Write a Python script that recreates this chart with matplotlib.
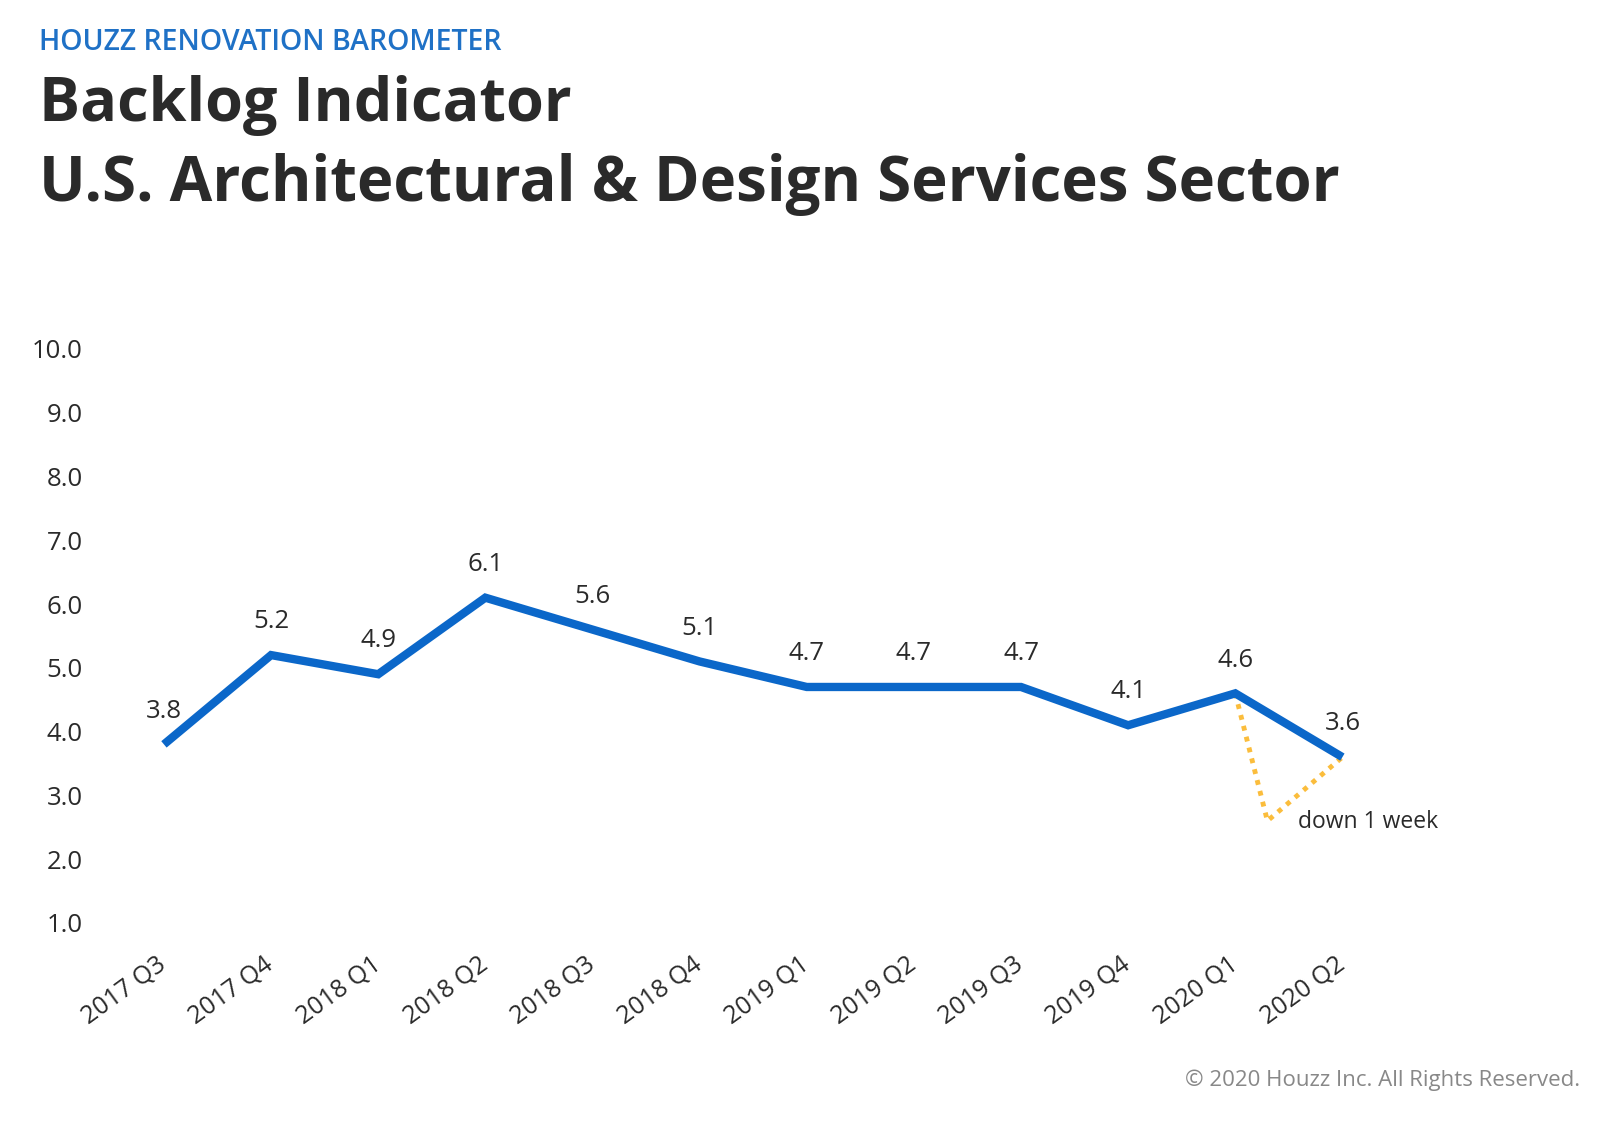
import matplotlib
matplotlib.use('Agg')
import matplotlib.pyplot as plt

# Data
quarters = ['2017 Q3', '2017 Q4', '2018 Q1', '2018 Q2', '2018 Q3', '2018 Q4',
            '2019 Q1', '2019 Q2', '2019 Q3', '2019 Q4', '2020 Q1', '2020 Q2']
backlog_weeks = [3.8, 5.2, 4.9, 6.1, 5.6, 5.1, 4.7, 4.7, 4.7, 4.1, 4.6, 3.6]
y_ticks = [1.0, 2.0, 3.0, 4.0, 5.0, 6.0, 7.0, 8.0, 9.0, 10.0]

# "down 1 week" dotted annotation
dip_x = [10, 10.3, 11]
dip_y = [4.6, 2.6, 3.6]
dip_label = 'down 1 week'

BLUE = '#0b67c9'
YELLOW = '#fbbd3c'
DARK = '#2a2a2a'

plt.rcParams['font.family'] = ['Open Sans', 'DejaVu Sans']

fig = plt.figure(figsize=(16.09, 11.22), dpi=100)
ax = fig.add_axes([0.0686, 0.1774, 0.799, 0.5116])

x = list(range(len(quarters)))
ax.plot(x, backlog_weeks, color=BLUE, linewidth=6, solid_joinstyle='miter',
        solid_capstyle='butt', clip_on=False, zorder=3)
ax.plot(dip_x, dip_y, color=YELLOW, linewidth=3.5, linestyle=(0, (1, 1.3)),
        clip_on=False, zorder=2)

for xi, v in zip(x, backlog_weeks):
    ax.annotate(f'{v:.1f}', (xi, v), xytext=(0, 24), textcoords='offset points',
                ha='center', va='center', fontsize=18.5, color=DARK)

ax.text(10.59, 2.58, dip_label, ha='left', va='center', fontsize=16.5, color=DARK)

ax.set_xlim(-0.5, 11.5)
ax.set_ylim(1, 10)
ax.set_yticks(y_ticks)
ax.set_yticklabels([f'{t:.1f}' for t in y_ticks])
ax.set_xticks(x)
ax.set_xticklabels(quarters, rotation=36, ha='right', va='center',
                   rotation_mode='anchor')
ax.tick_params(axis='y', length=0, pad=20, labelsize=18.5, labelcolor=DARK)
ax.tick_params(axis='x', length=0, pad=28, labelsize=18, labelcolor=DARK)
for s in ax.spines.values():
    s.set_visible(False)

fig.text(0.0242, 0.9554, 'HOUZZ RENOVATION BAROMETER', fontsize=20.5,
         fontweight='semibold', color='#1f71c6', va='baseline')
fig.text(0.0242, 0.8922, 'Backlog Indicator', fontsize=44, fontweight='bold',
         color=DARK, va='baseline')
fig.text(0.0242, 0.8209, 'U.S. Architectural & Design Services Sector',
         fontsize=44.5, fontweight='bold', color=DARK, va='baseline')
fig.text(0.982, 0.0374, '\u00a9 2020 Houzz Inc. All Rights Reserved.',
         fontsize=16, color='#888888', ha='right', va='center')

fig.savefig('out.png', dpi=100)
